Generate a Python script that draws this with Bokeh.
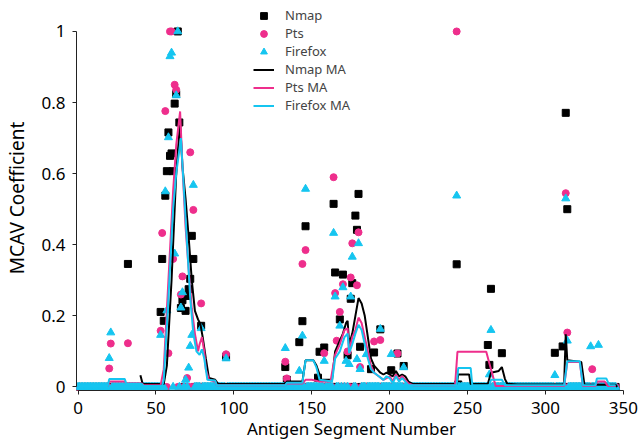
from bokeh.plotting import figure
from bokeh.models import Range1d, FixedTicker, CustomJSTickFormatter, Legend, LegendItem
from bokeh.embed import file_html
from bokeh.resources import INLINE

# ---------------- data ----------------
segments = list(range(0, 346))

nmap_values = {
    32: 0.346, 53: 0.211, 54: 0.36, 55: 0.186, 56: 0.538, 57: 0.607, 58: 0.716,
    59: 0.65, 60: 0.657, 61: 0.607, 62: 0.797, 63: 0.824, 64: 1.0, 65: 0.744,
    66: 0.222, 67: 0.244, 69: 0.214, 70: 0.256, 71: 0.275, 72: 0.304, 73: 0.425,
    74: 0.36, 79: 0.172, 95: 0.085,
    133: 0.056, 134: 0.02, 142: 0.126, 144: 0.185, 146: 0.452, 154: 0.026,
    155: 0.099, 158: 0.111, 164: 0.515, 165: 0.322, 168: 0.19, 170: 0.316,
    173: 0.089, 175: 0.248, 176: 0.292, 178: 0.482, 179: 0.442, 180: 0.543,
    181: 0.113, 188: 0.05, 190: 0.097, 194: 0.162, 201: 0.047, 205: 0.094,
    209: 0.059,
    243: 0.345, 244: 0.007, 263: 0.118, 264: 0.062, 265: 0.276, 272: 0.095,
    306: 0.096, 311: 0.114, 313: 0.771, 314: 0.5,
}

pts_values = {
    20: 0.052, 21: 0.122, 32: 0.123, 53: 0.158, 54: 0.433, 56: 0.776, 58: 0.095,
    59: 1.0, 60: 1.0, 61: 0.36, 62: 0.85, 63: 0.836, 66: 0.26, 67: 0.311,
    70: 0.025, 72: 0.66, 74: 0.498, 79: 0.235, 95: 0.092,
    133: 0.071, 134: 0.024, 144: 0.346, 146: 0.385, 158: 0.095, 164: 0.59,
    165: 0.264, 166: 0.13, 168: 0.211, 170: 0.289, 173: 0.1, 175: 0.308,
    176: 0.404, 179: 0.286, 180: 0.435, 181: 0.056, 190: 0.128, 194: 0.132,
    205: 0.094,
    243: 1.0, 313: 0.545, 314: 0.153, 330: 0.05,
}

firefox_values = {
    20: 0.081, 21: 0.153, 53: 0.146, 56: 0.55, 57: 0.215, 58: 0.702, 59: 0.93,
    60: 0.94, 62: 0.375, 63: 0.82, 64: 1.0, 66: 0.223, 67: 0.266, 69: 0.02,
    71: 0.054, 72: 0.115, 73: 0.146, 74: 0.568, 79: 0.165, 95: 0.08,
    133: 0.109, 142: 0.045, 144: 0.144, 146: 0.557, 158: 0.073, 164: 0.433,
    165: 0.254, 168: 0.172, 170: 0.28, 172: 0.073, 174: 0.064, 175: 0.254,
    176: 0.366, 179: 0.078, 180: 0.404, 181: 0.05, 185: 0.092, 194: 0.163,
    201: 0.092, 209: 0.055,
    243: 0.538, 264: 0.035, 265: 0.16, 306: 0.033, 313: 0.53, 314: 0.13,
    329: 0.114, 334: 0.118,
}

nmap_ma_x = [40, 41.5, 55, 57, 60, 63, 65.5, 67, 69, 71, 73, 75, 77, 78.5, 80, 82, 84, 88, 90,
             133, 134, 144, 146, 151, 153, 155, 156, 163, 165, 168, 170, 172, 173, 174, 176,
             178, 180, 182, 184, 186, 188, 190, 192, 194, 196, 198, 200, 202, 204, 206, 208,
             210, 212, 215, 243, 244, 251, 252, 263, 265, 270, 272, 274, 275.5, 282, 311,
             312, 313, 314, 323, 325, 345, 346]
nmap_ma_y = [0.033, 0.008, 0.008, 0.06, 0.3, 0.6, 0.745, 0.62, 0.53, 0.42, 0.3, 0.214, 0.19,
             0.177, 0.14, 0.08, 0.025, 0.02, 0.008,
             0.008, 0.015, 0.015, 0.075, 0.075, 0.06, 0.035, 0.02, 0.02, 0.1, 0.13, 0.15,
             0.18, 0.186, 0.12, 0.15, 0.2, 0.25, 0.235, 0.2, 0.14, 0.08, 0.06, 0.05, 0.04,
             0.035, 0.04, 0.035, 0.03, 0.045, 0.03, 0.035, 0.03, 0.015, 0.008, 0.008,
             0.035, 0.035, 0.008, 0.008, 0.04, 0.045, 0.056, 0.022, 0.009, 0.007, 0.007,
             0.01, 0.148, 0.075, 0.07, 0.006, 0.006, 0.0]

pts_ma_x = [0, 19, 20, 30, 31, 41, 42, 53, 55, 58, 61, 63, 65.5, 67, 69, 71, 73, 75, 77, 78,
            79.5, 81, 82, 84, 88, 89, 133, 134, 144, 146, 150, 155, 162, 165, 168, 171, 173,
            174, 176, 178, 180, 182, 184, 186, 188, 190, 193, 196, 198, 200, 202, 204, 206,
            208, 210, 212, 215, 242, 243.5, 262, 265, 268, 312, 314, 322, 324, 332, 333,
            338, 340, 345]
pts_ma_y = [0.003, 0.003, 0.015, 0.015, 0.01, 0.01, 0.005, 0.005, 0.05, 0.3, 0.55, 0.68,
            0.775, 0.62, 0.45, 0.33, 0.22, 0.15, 0.1, 0.12, 0.14, 0.1, 0.05, 0.02, 0.015,
            0.005, 0.005, 0.01, 0.01, 0.02, 0.02, 0.015, 0.015, 0.09, 0.12, 0.16, 0.165,
            0.1, 0.14, 0.16, 0.195, 0.18, 0.14, 0.1, 0.06, 0.04, 0.03, 0.02, 0.025, 0.03,
            0.015, 0.035, 0.02, 0.03, 0.02, 0.01, 0.005, 0.005, 0.099, 0.099, 0.05, 0.003,
            0.003, 0.07, 0.07, 0.003, 0.003, 0.015, 0.015, 0.003, 0.003]

firefox_ma_x = [0, 19, 20, 30, 31, 41, 42, 54, 55, 58, 61, 63, 66, 68, 70, 72, 74, 76, 78,
                79.5, 81, 82, 83, 88, 89, 133, 134, 144, 146, 151, 153, 155, 163, 165, 168,
                171, 173, 174, 176, 178, 180, 182, 184, 186, 188, 190, 193, 196, 198, 200,
                202, 204, 206, 208, 210, 212, 243, 244, 252, 253, 264, 265, 272, 274, 312,
                314, 322, 324, 332, 333, 339, 341, 345]
firefox_ma_y = [0.003, 0.003, 0.022, 0.022, 0.008, 0.008, 0.003, 0.003, 0.02, 0.25, 0.5,
                0.6, 0.7, 0.55, 0.4, 0.25, 0.15, 0.1, 0.09, 0.106, 0.08, 0.05, 0.02, 0.018,
                0.005, 0.005, 0.012, 0.012, 0.075, 0.075, 0.055, 0.02, 0.015, 0.08, 0.1,
                0.14, 0.15, 0.095, 0.12, 0.15, 0.175, 0.16, 0.12, 0.08, 0.05, 0.04, 0.03,
                0.02, 0.03, 0.025, 0.01, 0.03, 0.015, 0.025, 0.015, 0.005, 0.005, 0.053,
                0.053, 0.005, 0.005, 0.02, 0.02, 0.005, 0.005, 0.072, 0.072, 0.005, 0.005,
                0.024, 0.024, 0.005, 0.005]

x_ticks = [0, 50, 100, 150, 200, 250, 300, 350]
y_ticks = [0, 0.2, 0.4, 0.6, 0.8, 1]

nmap_y = [nmap_values.get(s, 0.0) for s in segments]
pts_y = [pts_values.get(s, 0.0) for s in segments]
firefox_y = [firefox_values.get(s, 0.0) for s in segments]

# ---------------- styling ----------------
BLACK = "#000000"
PINK = "#ee2e8c"
CYAN = "#15c5f0"
FONT = "Noto Sans"

p = figure(width=644, height=442, output_backend="svg", toolbar_location=None,
           x_range=Range1d(-1, 352), y_range=Range1d(-0.01, 1.073),
           min_border_left=76, min_border_right=18, min_border_top=5, min_border_bottom=52)
p.outline_line_color = None
p.grid.visible = False
p.background_fill_color = "white"

r_nmap = p.scatter(segments, nmap_y, marker="square", size=7, color=BLACK)
r_pts = p.scatter(segments, pts_y, marker="circle", size=7, color=PINK)
r_ff = p.scatter(segments, firefox_y, marker="triangle", size=8, color=CYAN)

l_nmap = p.line(nmap_ma_x, nmap_ma_y, line_color=BLACK, line_width=2)
l_pts = p.line(pts_ma_x, pts_ma_y, line_color=PINK, line_width=2)
l_ff = p.line(firefox_ma_x, firefox_ma_y, line_color=CYAN, line_width=2)

for ax in (p.xaxis, p.yaxis):
    ax.axis_line_color = "#222222"
    ax.major_tick_line_color = "#222222"
    ax.major_tick_out = 4
    ax.major_tick_in = 0
    ax.minor_tick_line_color = None
    ax.major_label_text_font = FONT
    ax.major_label_text_font_size = "17px"
    ax.major_label_text_color = "black"
    ax.axis_label_text_font = FONT
    ax.axis_label_text_font_style = "normal"
    ax.axis_label_text_color = "black"

p.xaxis.ticker = FixedTicker(ticks=x_ticks)
p.yaxis.ticker = FixedTicker(ticks=y_ticks)
p.yaxis.formatter = CustomJSTickFormatter(code="return String(Math.round(tick*10)/10);")
p.xaxis.bounds = (0, 350)
p.yaxis.bounds = (0, 1)
p.xaxis.axis_label = "Antigen Segment Number"
p.yaxis.axis_label = "MCAV Coefficient"
p.xaxis.axis_label_text_font_size = "17px"
p.yaxis.axis_label_text_font_size = "19px"
p.xaxis.major_label_standoff = 7
p.yaxis.major_label_standoff = 7
p.xaxis.axis_label_standoff = 0
p.yaxis.axis_label_standoff = 8

legend = Legend(items=[
    LegendItem(label="Nmap", renderers=[r_nmap]),
    LegendItem(label="Pts", renderers=[r_pts]),
    LegendItem(label="Firefox", renderers=[r_ff]),
    LegendItem(label="Nmap MA", renderers=[l_nmap]),
    LegendItem(label="Pts MA", renderers=[l_pts]),
    LegendItem(label="Firefox MA", renderers=[l_ff]),
], location=(177, 275.6))
legend.label_text_font = FONT
legend.label_text_font_size = "13px"
legend.glyph_width = 21
legend.glyph_height = 17
legend.label_height = 17
legend.spacing = 0
legend.padding = 0
legend.margin = 0
legend.label_standoff = 11
legend.border_line_alpha = 0
legend.background_fill_alpha = 0
p.add_layout(legend)

open("out.html", "w").write(file_html(p, INLINE))
